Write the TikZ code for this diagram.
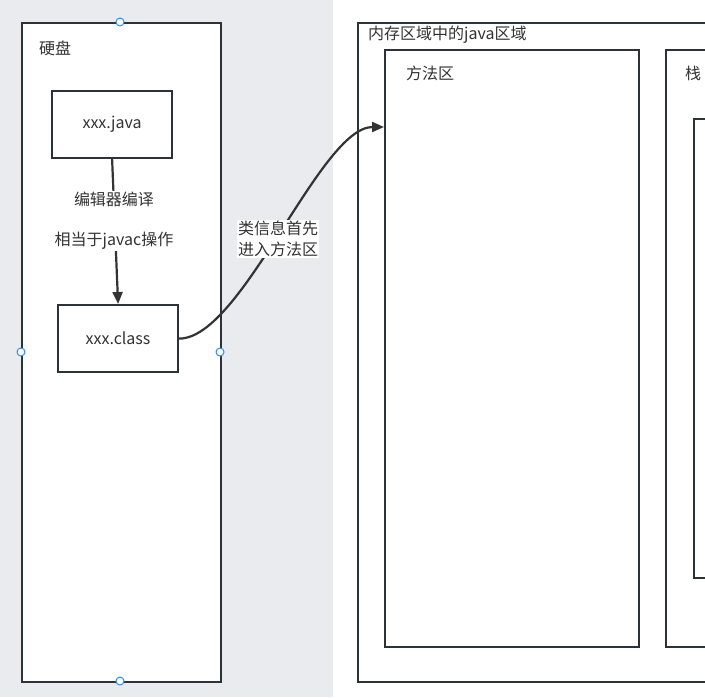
\documentclass[tikz,border=0pt]{standalone}
\usepackage{fontspec}
\setmainfont{Noto Sans CJK SC}
\usetikzlibrary{arrows.meta}
\definecolor{bord}{HTML}{2B3338}
\definecolor{edgec}{HTML}{333333}
\definecolor{canvas}{HTML}{E9EBEE}
\definecolor{handle}{HTML}{2E8DEF}
\definecolor{txt}{HTML}{333333}
\tikzset{
  box/.style={draw=bord, line width=2.2pt, fill=white, inner sep=0pt, anchor=north west, text=txt},
  lbl/.style={inner sep=0pt, anchor=west, text=txt, font=\fontsize{16}{21}\selectfont},
  elbl/.style={fill=white, inner sep=1pt, align=center, text=txt, font=\fontsize{16}{21}\selectfont},
  conn/.style={draw=edgec, line width=2.2pt, -{Triangle[length=12pt,width=10pt]}},
  hdl/.style={circle, draw=handle, fill=white, line width=1pt, minimum size=8pt, inner sep=0pt}
}
\begin{document}
\begin{tikzpicture}[x=1pt,y=-1pt]
\useasboundingbox (0,0) rectangle (705,697);
\clip (0,0) rectangle (705,697);
\fill[canvas] (0,0) rectangle (333,697);
\fill[white] (333,0) rectangle (705,697);
% left disk box
\node[box, minimum width=199pt, minimum height=659pt] (disk) at (21,22) {};
\node[lbl] (disklbl) at (39,48) {硬盘};
\node[box, minimum width=120pt, minimum height=67pt, font=\fontsize{16}{18}\selectfont] (java) at (51,90) {xxx.java};
\node[box, minimum width=120pt, minimum height=67pt, font=\fontsize{16}{18}\selectfont] (cls) at (57,304) {xxx.class};
% right memory area
\node[box, minimum width=380pt, minimum height=659pt] (mem) at (357,22) {};
\node[lbl] (memlbl) at (368,35) {内存区域中的java区域};
\node[box, minimum width=254pt, minimum height=597pt] (ma) at (384,49) {};
\node[lbl] (malbl) at (406,73) {方法区};
\node[box, minimum width=80pt, minimum height=597pt] (stack) at (665,49) {};
\node[lbl] (stacklbl) at (685,73) {栈};
\node[box, minimum width=40pt, minimum height=459pt] (frame) at (693,118) {};
% connectors
\draw[conn] (java.south) -- (cls.north);
\node[elbl] (complbl) at (114,221) {编辑器编译\\[19pt]相当于javac操作};
\coordinate (tgt) at (384,127);
\draw[conn] (cls.east) .. controls +(63,0) and +(-64,0) .. (tgt);
\node[elbl] (curvelbl) at (278,239) {类信息首先\\进入方法区};
% selection handles
\node[hdl] (h1) at (120,22) {};
\node[hdl] (h2) at (21,352) {};
\node[hdl] (h3) at (220,352) {};
\node[hdl] (h4) at (120,681) {};
\end{tikzpicture}
\end{document}
